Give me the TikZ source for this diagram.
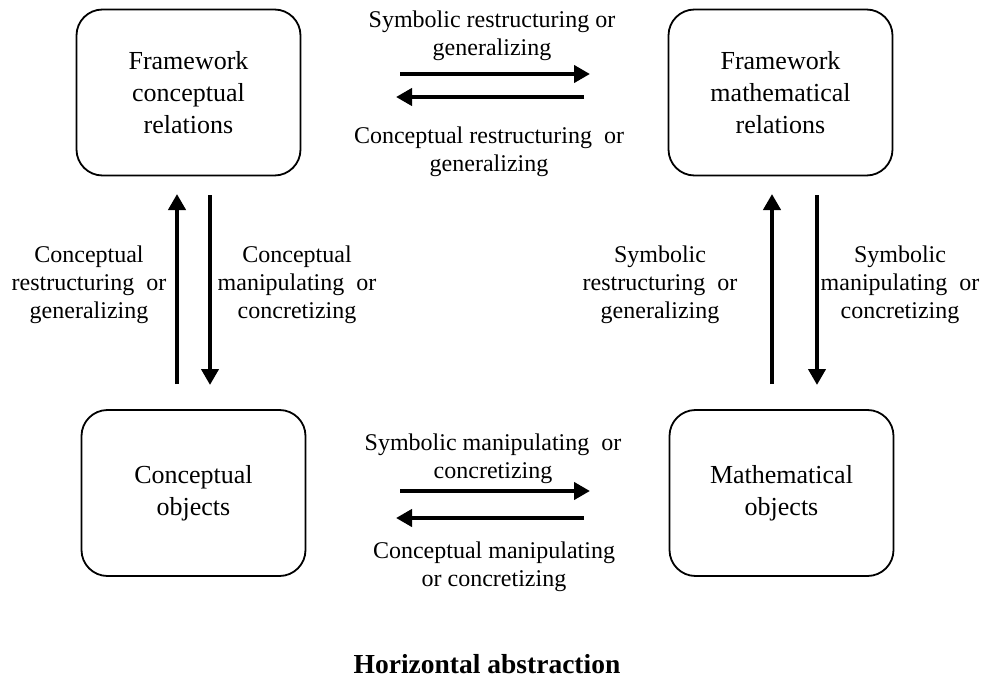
\documentclass[tikz,border=0pt]{standalone}
\usepackage{fontspec}
\setmainfont{Liberation Serif}
\usetikzlibrary{arrows.meta}
\begin{document}
\begin{tikzpicture}[x=1bp,y=-1bp,
  box/.style={draw, line width=1.8bp, rounded corners=26bp, minimum width=224bp,
    minimum height=166bp, inner sep=0pt, align=center,
    font=\fontsize{26bp}{32bp}\selectfont},
  lbl/.style={align=center, inner sep=0pt, font=\fontsize{24bp}{28bp}\selectfont},
  flow/.style={line width=4.2bp, -{Triangle[length=16bp,width=17bp]}}]
\useasboundingbox (0,0) rectangle (982,678);

% the four boxes
\node[box] (fc) at (188.5,92.5) {Framework\\conceptual\\relations};
\node[box] (fm) at (780.5,92.5) {Framework\\mathematical\\relations};
\node[box] (co) at (193.5,493) {Conceptual\\objects};
\node[box] (mo) at (781.5,493) {Mathematical\\objects};

% arrow end points
\coordinate (t1a) at (400,74);  \coordinate (t1b) at (590,74);
\coordinate (t2a) at (584,97);  \coordinate (t2b) at (396,97);
\coordinate (b1a) at (400,491); \coordinate (b1b) at (590,491);
\coordinate (b2a) at (584,518); \coordinate (b2b) at (396,518);
\coordinate (l1a) at (177,384); \coordinate (l1b) at (177,194);
\coordinate (l2a) at (210,195); \coordinate (l2b) at (210,385);
\coordinate (r1a) at (772,384); \coordinate (r1b) at (772,194);
\coordinate (r2a) at (817,195); \coordinate (r2b) at (817,385);

\draw[flow] (t1a) -- (t1b);
\draw[flow] (t2a) -- (t2b);
\draw[flow] (b1a) -- (b1b);
\draw[flow] (b2a) -- (b2b);
\draw[flow] (l1a) -- (l1b);
\draw[flow] (l2a) -- (l2b);
\draw[flow] (r1a) -- (r1b);
\draw[flow] (r2a) -- (r2b);

% arrow labels
\node[lbl] (lt1) at (492,36) {Symbolic restructuring or\\generalizing};
\node[lbl] (lt2) at (489,152) {Conceptual restructuring\ \ or\\generalizing};
\node[lbl] (ll1) at (89,285) {Conceptual\\restructuring\ \ or\\generalizing};
\node[lbl] (ll2) at (297,285) {Conceptual\\manipulating\ \ or\\concretizing};
\node[lbl] (lr1) at (660,285) {Symbolic\\restructuring\ \ or\\generalizing};
\node[lbl] (lr2) at (900,285) {Symbolic\\manipulating\ \ or\\concretizing};
\node[lbl] (lb1) at (493,459) {Symbolic manipulating\ \ or\\concretizing};
\node[lbl] (lb2) at (494,567) {Conceptual manipulating\\or concretizing};

% caption
\node[inner sep=0pt, font=\fontsize{27.5bp}{32bp}\selectfont\bfseries] (cap) at (487,664) {Horizontal abstraction};
\end{tikzpicture}
\end{document}
